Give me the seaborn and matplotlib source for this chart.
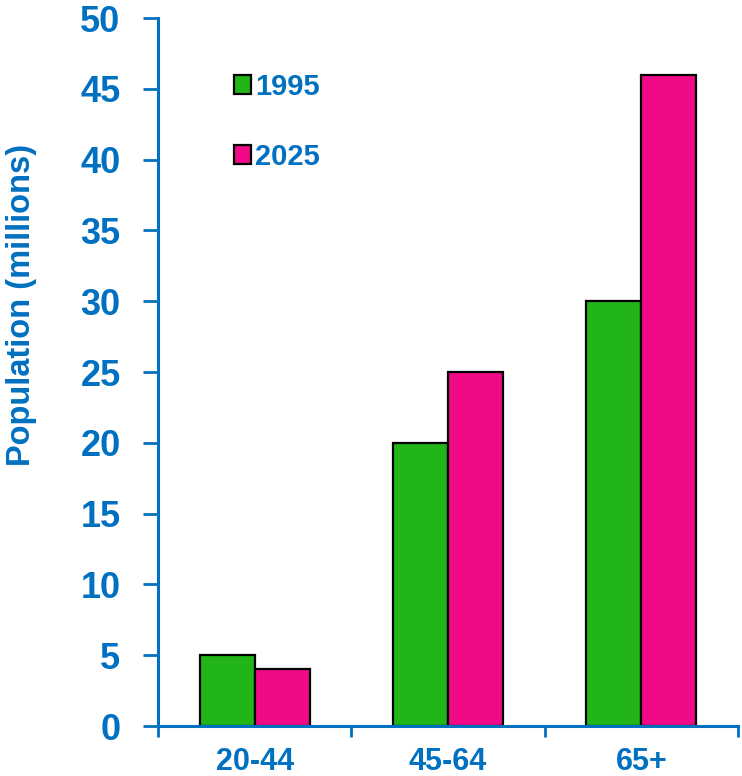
import matplotlib
matplotlib.use("Agg")
import matplotlib.pyplot as plt
import seaborn as sns
import pandas as pd

categories = ["20-44", "45-64", "65+"]
years = ["1995", "2025"]
values_1995 = [5, 20, 30]
values_2025 = [4, 25, 46]
yticks = [0, 5, 10, 15, 20, 25, 30, 35, 40, 45, 50]

df = pd.DataFrame({
    "Age": categories * 2,
    "Year": [years[0]] * 3 + [years[1]] * 3,
    "Population": values_1995 + values_2025,
})

sns.set_theme(style="white")
plt.rcParams["font.family"] = ["Liberation Sans", "DejaVu Sans"]
BLUE = "#0070C0"
GREEN = "#21B518"
PINK = "#F00A87"

fig = plt.figure(figsize=(7.42, 7.76), dpi=100)
ax = fig.add_axes([158 / 742, 50 / 776, (738 - 158) / 742, (726 - 18) / 776])

sns.barplot(data=df, x="Age", y="Population", hue="Year", hue_order=years,
            order=categories, palette=[GREEN, PINK], width=0.57,
            edgecolor="black", linewidth=1.6, saturation=1, ax=ax)

ax.set_ylim(0, 50)
ax.set_xlim(-0.5, 2.5)
ax.set_yticks(yticks)
ax.set_yticklabels([str(t) for t in yticks], fontsize=26, fontweight="bold", color=BLUE)
ax.set_xticks(range(len(categories)))
ax.set_xticklabels(categories, fontsize=22, fontweight="bold", color=BLUE)
ax.set_xticks([-0.5, 0.5, 1.5, 2.5], minor=True)
ax.tick_params(axis="x", which="major", length=0, pad=15)
ax.tick_params(axis="x", which="minor", length=8, width=2, color=BLUE, direction="out", bottom=True)
ax.tick_params(axis="y", length=11, width=2, color=BLUE, direction="out", pad=16, left=True)

for s in ["top", "right"]:
    ax.spines[s].set_visible(False)
for s in ["left", "bottom"]:
    ax.spines[s].set_color(BLUE)
    ax.spines[s].set_linewidth(2.2)

ax.set_xlabel("")
ax.set_ylabel("Population (millions)", fontsize=23.5, fontweight="bold", color=BLUE)
ax.yaxis.set_label_coords(-0.209, 0.595)

leg = ax.legend(loc="upper left", bbox_to_anchor=(0.085, 0.96), frameon=False,
                fontsize=21, handlelength=0.6, handleheight=0.6, handletextpad=0.15,
                labelspacing=1.45, title=None)
for t in leg.get_texts():
    t.set_color(BLUE)
    t.set_fontweight("bold")

fig.savefig("out.png", dpi=100)
